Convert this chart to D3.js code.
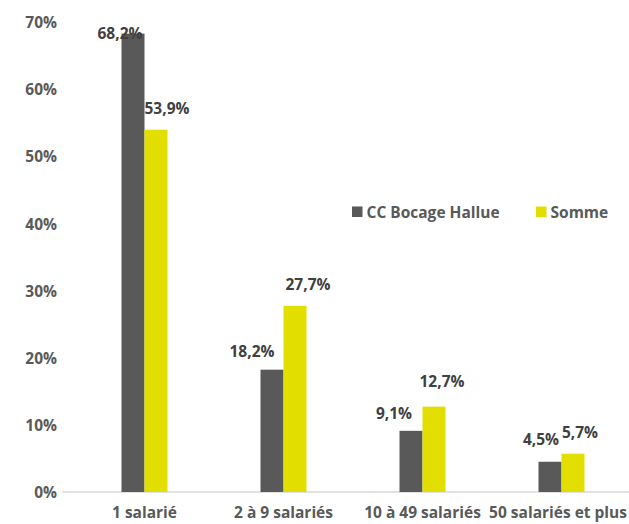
<!DOCTYPE html>
<html><head><meta charset="utf-8">
<script src="https://cdn.jsdelivr.net/npm/d3@7"></script>
<style>body{margin:0;background:#fff}svg{display:block;font-family:"Open Sans",sans-serif;font-weight:700}</style>
</head><body><svg id="c" width="629" height="524"></svg>
<script>
const categories = ["1 salarié", "2 à 9 salariés", "10 à 49 salariés", "50 salariés et plus"];
const seriesNames = ["CC Bocage Hallue", "Somme"];
const bocage = [68.2, 18.2, 9.1, 4.5];
const somme = [53.9, 27.7, 12.7, 5.7];
const yTicks = [0, 10, 20, 30, 40, 50, 60, 70];
const colors = ["#595959", "#E2DF00"];
// manual label nudges (dx, dy from bar top) as placed in the original
const labelNudge = [
  [[-13, 5], [-20, -13], [-17, -12], [-9, -17]],
  [[11, -16], [13, -16], [8, -20], [7, -16]]
];

const svg = d3.select("#c");
const W = 629;
const y = d3.scaleLinear().domain([0, 70]).range([492, 21.5]);
const x0 = d3.scaleBand().domain(categories).range([75, 631]).paddingInner(0.669).paddingOuter(0.3345);
const x1 = d3.scaleBand().domain(seriesNames).range([0, x0.bandwidth()]);
const fmt = v => v.toFixed(1).replace(".", ",") + "%";
const series = [bocage, somme];
const FS = 15.5;

// baseline
svg.append("line").attr("x1", 62).attr("x2", W).attr("y1", y(0)).attr("y2", y(0))
  .attr("stroke", "#d9d9d9").attr("stroke-width", 1.5);

// y axis
const yAxis = svg.append("g").attr("transform", "translate(57,1)")
  .call(d3.axisLeft(y).tickValues(yTicks).tickFormat(d => d + "%").tickSize(0).tickPadding(0));
yAxis.select(".domain").remove();
yAxis.selectAll("text").attr("font-size", FS).attr("font-weight", 700).attr("fill", "#595959")
  .attr("font-family", "Open Sans");

// x axis
const xAxis = svg.append("g").attr("transform", `translate(0,${y(0)})`)
  .call(d3.axisBottom(x0).tickSize(0).tickPadding(15));
xAxis.select(".domain").remove();
xAxis.selectAll("text").attr("font-size", FS).attr("font-weight", 700).attr("fill", "#595959")
  .attr("font-family", "Open Sans");
// keep labels inside the right edge
xAxis.selectAll(".tick").each(function (d) {
  const t = d3.select(this).select("text");
  const w = t.node().getComputedTextLength();
  const cx = x0(d) + x0.bandwidth() / 2;
  const over = cx + w / 2 - (W - 2);
  if (over > 0) t.attr("dx", -over);
});

// bars
series.forEach((vals, si) => {
  const g = svg.append("g");
  g.selectAll("rect").data(vals).join("rect")
    .attr("x", (d, i) => x0(categories[i]) + x1(seriesNames[si]))
    .attr("y", d => y(d))
    .attr("width", x1.bandwidth())
    .attr("height", d => y(0) - y(d))
    .attr("fill", colors[si]);
  g.selectAll("text").data(vals).join("text")
    .attr("x", (d, i) => x0(categories[i]) + x1(seriesNames[si]) + x1.bandwidth() / 2 + labelNudge[si][i][0])
    .attr("y", (d, i) => y(d) + labelNudge[si][i][1])
    .attr("text-anchor", "middle").attr("font-size", FS).attr("fill", "#404040")
    .text(fmt);
});

// legend
const legendX = [352, 536];
seriesNames.forEach((n, i) => {
  svg.append("rect").attr("x", legendX[i]).attr("y", 206.5).attr("width", 10.5).attr("height", 10.5).attr("fill", colors[i]);
  svg.append("text").attr("x", legendX[i] + 14.5).attr("y", 217.5).attr("font-size", FS).attr("fill", "#595959").text(n);
});
</script></body></html>
